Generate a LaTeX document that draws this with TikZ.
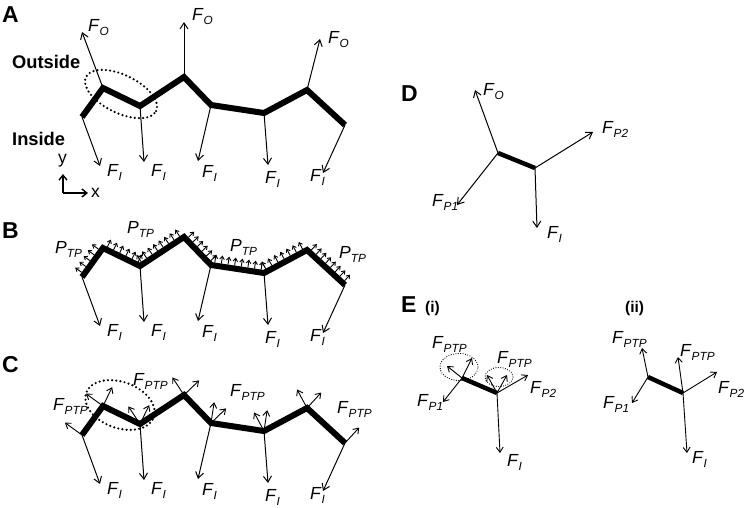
\documentclass[tikz,border=0pt]{standalone}
\usepackage{fontspec}
\setmainfont{Liberation Sans}
\usetikzlibrary{positioning,arrows.meta,calc,shapes.geometric}

\newcommand{\Fsub}[1]{\textit{F}\raisebox{-0.24em}{\fontsize{11.8}{12}\selectfont\textit{#1}}}
\newcommand{\Psub}[1]{\textit{P}\raisebox{-0.24em}{\fontsize{11.8}{12}\selectfont\textit{#1}}}

\begin{document}
\begin{tikzpicture}[
    x=1pt, y=-1pt,
    wall/.style={line width=6pt, line join=miter},
    bar/.style={line width=4.5pt},
    force/.style={draw, line width=1pt, -{Straight Barb[length=6pt,width=8pt]}},
    small/.style={draw, line width=0.9pt, -{Straight Barb[length=5pt,width=7pt]}},
    ptp/.style={draw, line width=0.9pt, -{Straight Barb[length=3pt,width=4.5pt]}},
    axis/.style={draw, line width=1.4pt, -{Straight Barb[length=5pt,width=8pt]}},
    ring/.style={draw, ellipse, inner sep=0pt, line width=2.4pt, line cap=round, dash pattern=on 0pt off 4.2pt},
    thinring/.style={draw, ellipse, inner sep=0pt, line width=1.2pt, line cap=round, dash pattern=on 0pt off 2.4pt},
    lab/.style={inner sep=0pt, anchor=base west, font=\fontsize{17.5}{20}\selectfont},
    word/.style={inner sep=0pt, anchor=base west, font=\fontsize{18.3}{21}\selectfont\bfseries},
    panel/.style={inner sep=0pt, anchor=base west, font=\fontsize{23}{26}\selectfont\bfseries},
    sub/.style={inner sep=0pt, anchor=base west, font=\fontsize{15.5}{18}\selectfont\bfseries}
]
\useasboundingbox (0,0) rectangle (744,507);

% Define wall vertices (A), shifted copies for B and C
\foreach \p/\s in {a/0, b/160, c/318}
  \foreach \i/\x/\y in {0/82/117, 1/103/88, 2/140/106, 3/184/77, 4/211/105, 5/264/113, 6/307/90, 7/345/125}
    \coordinate (\p\i) at (\x,\y+\s);

% Panel letters
\node[panel] (pa) at (2,22) {A};
\node[panel] (pb) at (2,238) {B};
\node[panel] (pc) at (2,372) {C};
\node[panel] (pd) at (401,101) {D};
\node[panel] (pe) at (401,312) {E};
\node[sub] (pei) at (425,312) {(i)};
\node[sub] (peii) at (625,312) {(ii)};

% Draw walls
\foreach \p in {a,b,c}
  \draw[wall] (\p0) -- (\p1) -- (\p2) -- (\p3) -- (\p4) -- (\p5) -- (\p6) -- (\p7);

% Inside forces F_I
\foreach \p in {a,b,c}
  \foreach \i/\dx/\dy/\lx/\ly in {0/18/49/7/10, 2/4/56/7/14, 4/-13/56/4/16, 5/4/52/-3/18, 7/-22/48/-13/8} {
    \coordinate (fi\p\i) at ($(\p\i)+(\dx,\dy)$);
    \draw[force] (\p\i) -- (fi\p\i);
    \node[lab] (li\p\i) at ($(fi\p\i)+(\lx,\ly)$) {\Fsub{I}};
  }

% Outside forces F_O (A)
\foreach \i/\dx/\dy/\lx/\ly in {1/-21/-56/6/-1, 3/0/-55/8/-2, 6/13/-51/8/4} {
  \coordinate (fo\i) at ($(a\i)+(\dx,\dy)$);
  \draw[force] (a\i) -- (fo\i);
  \node[lab] (lo\i) at ($(fo\i)+(\lx,\ly)$) {\Fsub{O}};
}

\node[word] (outside) at (12,68) {Outside};
\node[word] (inside) at (12,145) {Inside};
\node[ring, rotate=-26, minimum width=78pt, minimum height=38pt] (ovala) at (121,94) {};

% Axes
\coordinate (origin) at (63,193);
\coordinate (yend) at (63,174);
\coordinate (xend) at (88,193);
\draw[axis] (origin) -- (yend);
\draw[axis] (origin) -- (xend);
\node[lab] (ylab) at (58,163) {y};
\node[lab] (xlab) at (91,197) {x};

% Turgor pressure along the wall (B)
\foreach \i/\j/\n in {0/1/5, 1/2/6, 2/3/8, 3/4/6, 4/5/8, 5/6/7, 6/7/8}
  \foreach \k in {1,...,\n} {
    \pgfmathsetmacro\t{(\k-0.5)/\n}
    \coordinate (pb\i\k) at ($(b\i)!\t!(b\j)!3pt!90:(b\j)$);
    \coordinate (qb\i\k) at ($(b\i)!\t!(b\j)!11pt!90:(b\j)$);
    \draw[ptp] (pb\i\k) -- (qb\i\k);
  }
\node[lab] (ptp1) at (55,253) {\Psub{TP}};
\node[lab] (ptp2) at (127,233) {\Psub{TP}};
\node[lab] (ptp3) at (230,251) {\Psub{TP}};
\node[lab] (ptp4) at (339,258) {\Psub{TP}};

% Resultant pressure forces at the vertices (C)
\foreach \i/\j in {0/1, 1/2, 2/3, 3/4, 4/5, 5/6, 6/7} {
  \coordinate (nc\i\j) at ($(c\i)!21pt!90:(c\j)$);
  \coordinate (nc\j\i) at ($(c\j)!21pt!-90:(c\i)$);
  \draw[small] (c\i) -- (nc\i\j);
  \draw[small] (c\j) -- (nc\j\i);
}
\node[ring, rotate=-20, minimum width=72pt, minimum height=46pt] (ovalc) at (120,405) {};
\node[lab] (fptp1) at (53,410) {\Fsub{PTP}};
\node[lab] (fptp2) at (133,385) {\Fsub{PTP}};
\node[lab] (fptp3) at (230,396) {\Fsub{PTP}};
\node[lab] (fptp4) at (337,413) {\Fsub{PTP}};

% Single wall segment (D)
\coordinate (d1) at (498,153);
\coordinate (d2) at (535,168);
\draw[bar] (d1) -- (d2);
\foreach \v/\t/\x/\y in {d1/do/475/90, d1/dp1/457/205, d2/dp2/593/132, d2/di/537/228} {
  \coordinate (\t) at (\x,\y);
  \draw[force] (\v) -- (\t);
}
\node[lab] (ldo) at (483,95) {\Fsub{O}};
\node[lab] (ldp2) at (602,133) {\Fsub{P2}};
\node[lab] (ldp1) at (432,206) {\Fsub{P1}};
\node[lab] (ldi) at (547,238) {\Fsub{I}};

% Segment with vertex pressure forces (E i)
\coordinate (e1) at (462,378);
\coordinate (e2) at (497,393);
\draw[bar] (e1) -- (e2);
\foreach \v/\t/\x/\y in {e1/ep1/443/402, e1/et1/447/366, e1/et2/472/358, e2/et3/487/375, e2/et4/507/375, e2/ep2/528/375, e2/ei/500/453} {
  \coordinate (\t) at (\x,\y);
  \draw[small] (\v) -- (\t);
}
\node[thinring, minimum width=38pt, minimum height=27pt] (ringe1) at (459,367) {};
\node[thinring, minimum width=28pt, minimum height=19pt] (ringe2) at (499,377) {};
\node[lab] (lept1) at (432,348) {\Fsub{PTP}};
\node[lab] (lept2) at (497,363) {\Fsub{PTP}};
\node[lab] (lep2) at (530,393) {\Fsub{P2}};
\node[lab] (lep1) at (417,406) {\Fsub{P1}};
\node[lab] (lei) at (507,466) {\Fsub{I}};

% Segment with summed forces (E ii)
\coordinate (g1) at (648,377);
\coordinate (g2) at (683,393);
\draw[bar] (g1) -- (g2);
\foreach \v/\t/\x/\y in {g1/gt1/642/348, g1/gp1/632/403, g2/gt2/678/357, g2/gp2/717/372, g2/gi/687/453} {
  \coordinate (\t) at (\x,\y);
  \draw[small] (\v) -- (\t);
}
\node[lab] (lgt1) at (612,343) {\Fsub{PTP}};
\node[lab] (lgt2) at (680,356) {\Fsub{PTP}};
\node[lab] (lgp2) at (718,393) {\Fsub{P2}};
\node[lab] (lgp1) at (603,408) {\Fsub{P1}};
\node[lab] (lgi) at (692,463) {\Fsub{I}};

\end{tikzpicture}
\end{document}
